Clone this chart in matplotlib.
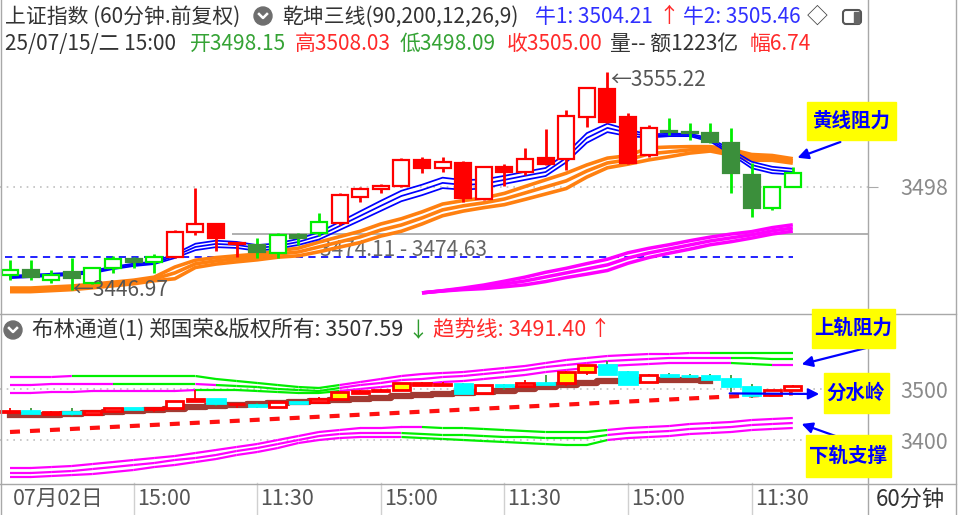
import numpy as np
import matplotlib
matplotlib.use('Agg')
import matplotlib.pyplot as plt
from matplotlib.patches import Rectangle, Circle, FancyBboxPatch
from matplotlib.collections import LineCollection
from matplotlib.transforms import blended_transform_factory

plt.rcParams['font.family'] = ['Noto Sans CJK SC', 'DejaVu Sans']

# ---- 60分钟K线 (07/02 - 07/15) ----
opens = [3454.3, 3456.8, 3451.8, 3455.8, 3450.3, 3457.8, 3462.3, 3460.8, 3463.2, 3475.7,
         3479.6, 3469.7, 3469.2, 3465.2, 3474.2, 3475.2, 3480.1, 3493.0, 3497.0, 3498.5,
         3511.4, 3507.4, 3509.9, 3492.0, 3507.9, 3505.4, 3512.4, 3511.9, 3532.8, 3546.7,
         3532.8, 3513.9, 3525.8, 3525.3, 3524.8, 3519.8, 3504.0, 3487.6, 3498.15]
highs = [3461.8, 3461.8, 3456.8, 3462.7, 3458.3, 3463.7, 3463.2, 3464.7, 3476.6, 3497.5,
         3479.6, 3470.7, 3472.7, 3475.2, 3475.2, 3485.1, 3495.0, 3498.0, 3499.5, 3512.4,
         3512.9, 3512.9, 3510.9, 3508.4, 3509.4, 3517.4, 3526.8, 3536.2, 3547.7, 3555.22,
         3534.7, 3528.8, 3532.3, 3529.8, 3529.8, 3527.3, 3509.9, 3498.5, 3508.03]
lows = [3451.8, 3451.8, 3450.3, 3446.97, 3449.8, 3455.3, 3457.8, 3455.3, 3462.7, 3474.2,
        3466.2, 3463.2, 3462.7, 3462.7, 3469.2, 3473.7, 3479.1, 3490.6, 3495.0, 3498.0,
        3505.0, 3505.4, 3490.6, 3491.5, 3498.5, 3504.0, 3508.9, 3506.4, 3527.8, 3529.8,
        3509.4, 3512.9, 3523.8, 3521.3, 3519.8, 3495.0, 3483.1, 3486.6, 3498.09]
closes = [3456.8, 3453.3, 3454.3, 3452.8, 3457.8, 3462.3, 3460.8, 3463.2, 3475.7, 3479.6,
          3472.7, 3470.2, 3465.7, 3474.2, 3472.7, 3480.6, 3494.0, 3497.0, 3498.5, 3511.4,
          3507.4, 3510.4, 3492.5, 3507.9, 3505.4, 3511.9, 3509.4, 3533.3, 3547.2, 3530.3,
          3509.9, 3527.3, 3525.3, 3524.8, 3520.3, 3505.0, 3487.6, 3498.0, 3505.00]
# 乾坤三线状态: r = 红, g = 绿
qk_state = "ggggggggrrrrggggrrrrrrrrrrrrrrrrggggggg"

# 乾坤三线 - 蓝线 (牛1/牛2)
blue_hi = [3453.9, 3454.4, 3454.9, 3455.4, 3456.4, 3458.4, 3459.9, 3460.9, 3464.7, 3469.8,
           3471.3, 3470.7, 3469.1, 3470.0, 3472.2, 3475.5, 3480.6, 3485.9, 3491.1, 3496.1,
           3499.1, 3502.6, 3501.4, 3501.7, 3503.5, 3505.5, 3507.4, 3514.6, 3524.7, 3529.4,
           3526.4, 3524.1, 3524.4, 3524.4, 3522.1, 3516.6, 3510.5, 3508.0, 3507.0]
blue_mid = [3453.3, 3453.8, 3454.3, 3454.8, 3455.8, 3457.8, 3459.3, 3460.3, 3463.7, 3468.2,
            3469.7, 3469.2, 3467.7, 3468.7, 3470.7, 3473.7, 3478.6, 3483.6, 3488.6, 3493.5,
            3496.5, 3500.0, 3499.0, 3499.5, 3501.5, 3503.5, 3505.4, 3512.4, 3522.3, 3527.3,
            3524.8, 3523.3, 3523.8, 3523.8, 3521.3, 3515.4, 3508.9, 3506.4, 3505.46]
blue_lo = [3452.7, 3453.2, 3453.7, 3454.2, 3455.2, 3457.2, 3458.7, 3459.7, 3462.7, 3466.6,
           3468.1, 3467.7, 3466.3, 3467.4, 3469.2, 3471.9, 3476.6, 3481.3, 3486.1, 3490.9,
           3493.9, 3497.4, 3496.6, 3497.3, 3499.5, 3501.5, 3503.4, 3510.2, 3519.9, 3525.2,
           3523.2, 3522.5, 3523.2, 3523.2, 3520.5, 3514.2, 3507.3, 3504.8, 3504.21]
# 黄线 (橙色带)
orange_hi = [3447.8, 3447.8, 3448.3, 3448.8, 3449.7, 3450.7, 3451.7, 3453.2, 3458.2, 3461.6,
             3462.9, 3463.8, 3464.6, 3466.3, 3467.6, 3470.6, 3473.3, 3476.0, 3479.6, 3482.2,
             3485.6, 3489.5, 3491.2, 3492.5, 3494.8, 3498.2, 3501.5, 3504.8, 3508.9, 3512.3,
             3513.5, 3517.4, 3517.8, 3518.0, 3518.0, 3516.6, 3514.1, 3513.6, 3512.0]
orange_mid = [3446.9, 3446.9, 3447.4, 3447.9, 3448.8, 3449.8, 3450.8, 3452.3, 3455.3, 3459.8,
              3461.3, 3462.3, 3463.2, 3464.7, 3465.7, 3468.2, 3470.7, 3473.2, 3476.6, 3479.1,
              3482.6, 3486.6, 3488.6, 3490.1, 3492.0, 3495.0, 3498.0, 3501.0, 3505.9, 3509.9,
              3511.4, 3514.4, 3515.4, 3516.4, 3516.9, 3515.2, 3512.7, 3512.4, 3510.9]
orange_lo = [3446.0, 3446.0, 3446.5, 3447.0, 3447.9, 3448.9, 3449.9, 3451.4, 3452.4, 3458.0,
             3459.7, 3460.8, 3461.8, 3463.1, 3463.8, 3465.8, 3468.1, 3470.4, 3473.6, 3476.0,
             3479.6, 3483.7, 3486.0, 3487.7, 3489.2, 3491.8, 3494.5, 3497.2, 3502.9, 3507.5,
             3509.3, 3511.4, 3513.0, 3514.8, 3515.8, 3513.8, 3511.3, 3511.2, 3509.8]
# 紫色带 (从第20根开始)
mag_start = 20
mag_hi = [3445.4, 3446.5, 3447.8, 3449.3, 3451.2, 3453.2, 3455.6, 3457.6, 3459.9, 3462.1,
          3465.3, 3467.5, 3469.3, 3471.3, 3473.1, 3474.6, 3475.8, 3477.8, 3479.2]
mag_mid = [3445.4, 3446.4, 3447.4, 3448.4, 3449.8, 3451.3, 3453.3, 3455.3, 3457.3, 3459.3,
           3462.7, 3465.2, 3467.2, 3469.2, 3471.2, 3472.7, 3474.2, 3476.2, 3477.6]
mag_lo = [3445.4, 3446.3, 3447.0, 3447.5, 3448.4, 3449.4, 3451.0, 3453.0, 3454.7, 3456.5,
          3460.1, 3462.9, 3465.1, 3467.1, 3469.3, 3470.8, 3472.6, 3474.6, 3476.0]
dash_level = 3463.2        # 蓝色虚线
gray_level = 3474.63       # 灰色水平线
gray_start = 10.8
mid_level = 3498

# ---- 布林通道 ----
boll_up1 = [3523.5, 3523.5, 3523.5, 3525.5, 3525.5, 3525.5, 3525.5, 3525.5, 3525.5, 3525.5,
            3519.6, 3515.7, 3511.8, 3507.8, 3503.9, 3502.0, 3507.8, 3513.7, 3519.6, 3525.5,
            3529.4, 3531.4, 3533.3, 3537.3, 3541.2, 3545.1, 3551.0, 3556.9, 3560.8, 3564.7,
            3566.7, 3568.6, 3568.6, 3570.6, 3570.6, 3570.6, 3570.6, 3570.6, 3570.6]
boll_up2 = [3507.8, 3507.8, 3509.8, 3509.8, 3509.8, 3509.8, 3509.8, 3509.8, 3509.8, 3509.8,
            3507.8, 3505.9, 3503.9, 3500.0, 3498.0, 3496.1, 3502.0, 3507.8, 3511.8, 3517.6,
            3519.6, 3523.5, 3525.5, 3529.4, 3533.3, 3537.3, 3543.1, 3547.1, 3551.0, 3554.9,
            3556.9, 3558.8, 3560.8, 3560.8, 3560.8, 3560.8, 3560.8, 3558.8, 3558.8]
boll_up3 = [3492.2, 3492.2, 3494.1, 3494.1, 3496.1, 3496.1, 3496.1, 3496.1, 3496.1, 3498.0,
            3498.0, 3498.0, 3496.1, 3494.1, 3492.2, 3492.2, 3496.1, 3500.0, 3503.9, 3507.8,
            3509.8, 3513.7, 3515.7, 3519.6, 3523.5, 3527.5, 3533.3, 3537.3, 3541.2, 3545.1,
            3547.1, 3549.0, 3551.0, 3551.0, 3551.0, 3551.0, 3549.0, 3547.1, 3547.1]
boll_lo1 = [3345.1, 3345.1, 3347.0, 3349.0, 3352.9, 3356.8, 3360.8, 3364.7, 3368.6, 3374.5,
            3380.4, 3386.3, 3392.1, 3400.0, 3407.8, 3415.7, 3419.6, 3423.5, 3423.5, 3425.5,
            3425.5, 3423.5, 3423.5, 3421.6, 3419.6, 3417.6, 3415.7, 3415.7, 3415.7, 3419.6,
            3423.5, 3425.5, 3427.4, 3431.4, 3433.3, 3435.3, 3439.2, 3441.2, 3443.1]
boll_lo2 = [3335.3, 3335.3, 3337.2, 3339.2, 3343.1, 3347.0, 3351.0, 3354.9, 3360.8, 3364.7,
            3370.6, 3378.4, 3384.3, 3392.1, 3400.0, 3407.8, 3411.8, 3413.7, 3413.7, 3413.7,
            3411.8, 3409.8, 3409.8, 3407.8, 3405.9, 3405.9, 3403.9, 3403.9, 3403.9, 3409.8,
            3413.7, 3415.7, 3417.6, 3421.6, 3423.5, 3425.5, 3429.4, 3431.4, 3433.3]
boll_lo3 = [3327.4, 3327.4, 3329.4, 3331.3, 3333.3, 3337.2, 3341.2, 3347.0, 3351.0, 3356.8,
            3362.7, 3370.6, 3376.5, 3384.3, 3394.1, 3400.0, 3403.9, 3405.9, 3405.9, 3405.9,
            3403.9, 3402.0, 3400.0, 3398.0, 3396.1, 3394.1, 3392.1, 3390.2, 3390.2, 3400.0,
            3403.9, 3405.9, 3407.8, 3411.8, 3413.7, 3415.7, 3419.6, 3421.6, 3423.5]
# m = 紫, g = 绿
state_up1 = "mmmgggggggggggggmmmmmmmmmmmmmmmmmmggggg"
state_up2 = "mmmmmggggmggggggmmmmmmmmmmmmmmmmmmmgggm"
state_up3 = "mmmmmmmmmgggggggmmmmmmmmmmmmmmmmmmmggmm"
state_lo1 = "mmmmmmmmmmmmmmmmmmmmgggggggggmmmmmmmmmm"
state_lo2 = "mmmmmmmmmmmmmmmmmmmggggggggggmmmmmmmmmm"
brown = [3449.0, 3449.0, 3449.0, 3451.0, 3452.9, 3454.9, 3456.9, 3458.8, 3460.8, 3464.7,
         3466.7, 3468.6, 3470.6, 3472.5, 3474.5, 3476.5, 3478.4, 3480.4, 3482.4, 3486.3,
         3488.2, 3490.2, 3492.2, 3494.1, 3496.1, 3500.0, 3503.9, 3507.8, 3511.8, 3515.7,
         3515.7, 3517.6, 3517.6, 3517.6, 3515.7]
trend_bars = [0, 38]
trend_vals = [3415.7, 3491.4]
yellow_bars = [16, 17, 18, 19, 20, 21, 27, 28]

tick_bars = [0, 6, 12, 18, 24, 30, 36]
tick_labels = ['07月02日', '15:00', '11:30', '15:00', '11:30', '15:00', '11:30']

n = len(closes)
x = np.arange(n)

W, H = 960, 515
fig = plt.figure(figsize=(9.6, 5.15), dpi=100)


def px_axes(x0, y0, x1, y1):
    return fig.add_axes([x0 / W, 1 - y1 / H, (x1 - x0) / W, (y1 - y0) / H])


ax = px_axes(0, 0, 868, 313)
axb = px_axes(0, 315, 868, 483)
for a in (ax, axb):
    a.set_xlim(-0.485, 41.65)
    for s in a.spines.values():
        s.set_visible(False)
    a.set_xticks([])
    a.yaxis.tick_right()
ax.set_ylim(3435.4, 3590.8)
axb.set_ylim(3315.7, 3645.1)

GRAY_TXT = '#8a8a8a'
ax.set_yticks([mid_level])
ax.tick_params(axis='y', length=7, color='#aaaaaa', labelcolor=GRAY_TXT, labelsize=15.5, pad=16)
axb.set_yticks([3400, 3500])
axb.tick_params(axis='y', length=0, labelcolor=GRAY_TXT, labelsize=15.5, pad=23)

# ---------------- 主图 ----------------
ax.axhline(mid_level, color='#c0c0c0', lw=1.2, ls=(0, (1, 3)), zorder=0)
ax.hlines(dash_level, -0.25, n - 1, color='#1010ff', lw=1.3, ls=(0, (4, 3)), zorder=1)
ax.hlines(gray_level, gray_start, 41.65, color='#9a9a9a', lw=1.1, zorder=1)
ax.text(23.15, 3466.7, '3474.11 - 3474.63', color='#666666', fontsize=15,
        ha='right', va='center', zorder=1)

mx = x[mag_start:]
for v in (mag_lo, mag_mid, mag_hi):
    ax.plot(mx, v, color='#ff00ff', lw=2.5, solid_capstyle='butt', zorder=2)
for v in (orange_lo, orange_mid, orange_hi):
    ax.plot(x, v, color='#ff8010', lw=2.6, solid_capstyle='butt', zorder=3)
for v in (blue_lo, blue_mid, blue_hi):
    ax.plot(x, v, color='#0000ff', lw=1.25, zorder=4)

RED, GREEN, DKGREEN = '#ff0000', '#00ee00', '#3b8f3b'
w = 0.78
for i in range(n):
    o, h, l, c = opens[i], highs[i], lows[i], closes[i]
    up = c >= o
    if qk_state[i] == 'r':
        wick = RED
        fc, ec = ('white', RED) if up else (RED, RED)
    else:
        wick = GREEN
        fc, ec = ('white', GREEN) if up else (DKGREEN, DKGREEN)
    ax.vlines(i, l, h, color=wick, lw=2.0, zorder=5)
    ax.add_patch(Rectangle((i - w / 2, min(o, c)), w, max(abs(c - o), 0.3),
                           facecolor=fc, edgecolor=ec, lw=1.6, zorder=6))

ax.text(3, lows[3], '←3446.97', color='#555555', fontsize=15, va='center', ha='left', zorder=7)
ax.annotate('←3555.22', xy=(29, highs[29]), xytext=(3, -8), textcoords='offset pixels',
            color='#555555', fontsize=15, va='center', ha='left', zorder=7)

# ---------------- 布林通道 ----------------
axb.axhline(3500, color='#c0c0c0', lw=1.2, ls=(0, (1, 3)), zorder=0)
axb.axhline(3400, color='#c0c0c0', lw=1.2, ls=(0, (1, 3)), zorder=0)

cmap = {'m': '#ff00ff', 'g': '#00ee00'}


def state_line(a, vals, states):
    segs = [[(i, vals[i]), (i + 1, vals[i + 1])] for i in range(len(vals) - 1)]
    cols = [cmap[states[i]] for i in range(len(vals) - 1)]
    a.add_collection(LineCollection(segs, colors=cols, linewidths=1.6, zorder=2))


state_line(axb, boll_up1, state_up1)
state_line(axb, boll_up2, state_up2)
state_line(axb, boll_up3, state_up3)
state_line(axb, boll_lo1, state_lo1)
state_line(axb, boll_lo2, state_lo2)
state_line(axb, boll_lo3, state_lo2)

axb.plot(trend_bars, trend_vals, color='#ff1010', lw=3, ls=(0, (2.4, 2.4)), zorder=3)
axb.plot(x[:len(brown)], brown, color='#a23a32', lw=4.5, drawstyle='steps-mid', zorder=4)

wb = 0.84
for i in range(n):
    o, h, l, c = opens[i], highs[i], lows[i], closes[i]
    if i in yellow_bars:
        fc, ec, wick = '#ffff00', RED, RED
    elif c < o:
        fc, ec, wick = '#00ffff', '#00ffff', '#3a9a3a'
    else:
        fc, ec, wick = 'white', RED, RED
    axb.vlines(i, l, h, color=wick, lw=1.3, zorder=5)
    axb.add_patch(Rectangle((i - wb / 2, min(o, c)), wb, max(abs(c - o), 1.5),
                            facecolor=fc, edgecolor=ec, lw=2.0, zorder=6))

# x 轴时间
tr = blended_transform_factory(axb.transData, axb.transAxes)
for b, lab in zip(tick_bars, tick_labels):
    if b > 0:
        axb.plot([b, b], [0, -32 / 168], color='#d0d0d0', lw=1, transform=tr, clip_on=False)
    axb.text(b + 0.15, -16 / 168, lab, transform=tr, color='#555555', fontsize=15.5,
             ha='left', va='center', clip_on=False)

# ---------------- 叠加层 ----------------
ov = px_axes(0, 0, W, H)
ov.set_xlim(0, W)
ov.set_ylim(H, 0)
ov.axis('off')

for xs, ys in [([868, 868], [0, H]), ([956, 956], [0, H]), ([1, 1], [0, H]),
               ([0, 956], [314, 314]), ([0, 956], [484, 484])]:
    ov.plot(xs, ys, color='#a8a8a8', lw=1)


def chevron(cx, cy):
    ov.add_patch(Circle((cx, cy), 9, color='#6e6e6e'))
    ov.plot([cx - 4, cx, cx + 4], [cy - 2, cy + 2, cy - 2], color='white', lw=1.8)


DARK, BLUE, RED_T, GREEN_T = '#333333', '#3030ff', '#ff2a2a', '#35a335'
fs = 15
ov.text(5, 17, '上证指数 (60分钟.前复权)', color=DARK, fontsize=fs, va='center')
chevron(263, 16)
ov.text(282, 17, '乾坤三线(90,200,12,26,9)', color=DARK, fontsize=fs, va='center')
ov.text(535, 17, f'牛1: {blue_lo[-1]:.2f}', color=BLUE, fontsize=fs, va='center')
ov.text(658, 16, '↑', color=RED_T, fontsize=fs, va='center')
ov.text(683, 17, f'牛2: {blue_mid[-1]:.2f}', color=BLUE, fontsize=fs, va='center')
ov.text(807, 17, '◇', color='#444444', fontsize=fs, va='center')
ov.add_patch(FancyBboxPatch((843, 10), 18, 14, boxstyle='round,pad=0,rounding_size=3',
                            fc='white', ec='#555555', lw=1.5))
ov.add_patch(Rectangle((854, 11.5), 5, 11, color='#666666'))

ov.text(5, 44, '25/07/15/二 15:00', color=DARK, fontsize=fs, va='center')
ov.text(190, 44, f'开{opens[-1]:.2f}', color=GREEN_T, fontsize=fs, va='center')
ov.text(295, 44, f'高{highs[-1]:.2f}', color=RED_T, fontsize=fs, va='center')
ov.text(400, 44, f'低{lows[-1]:.2f}', color=GREEN_T, fontsize=fs, va='center')
ov.text(507, 44, f'收{closes[-1]:.2f}', color=RED_T, fontsize=fs, va='center')
ov.text(610, 44, '量-- 额1223亿', color=DARK, fontsize=fs, va='center')
t = ov.text(750, 44, '幅6.74', color=RED_T, fontsize=fs, va='center')
t.set_clip_path(Rectangle((740, 30), 68, 30, transform=ov.transData))

chevron(13, 330)
ov.text(32, 330, '布林通道(1) 郑国荣&版权所有: 3507.59', color=DARK, fontsize=15.5, va='center')
ov.text(407, 331, '↓', color='#2e9b2e', fontsize=fs, va='center')
ov.text(433, 330, f'趋势线: {trend_vals[-1]:.2f}', color=RED_T, fontsize=15.5, va='center')
ov.text(589, 329, '↑', color=RED_T, fontsize=fs, va='center')

ov.text(876, 499, '60分钟', color=DARK, fontsize=16, va='center')

# 标注
for (cx, cy, bw, bh, lab) in [(851, 121, 89, 38, '黄线阻力'), (853, 328, 83, 39, '上轨阻力'),
                              (856, 393, 65, 40, '分水岭'), (848, 456, 85, 42, '下轨支撑')]:
    ov.add_patch(Rectangle((cx - bw / 2, cy - bh / 2), bw, bh, color='#ffff00', zorder=5))
    ov.text(cx, cy, lab, color='#0000ff', fontsize=14, fontweight='bold',
            ha='center', va='center', zorder=6)

arrow = dict(arrowstyle='-|>', color='#0000ff', lw=1.6, mutation_scale=16)
ax.annotate('', xy=(38.1, orange_hi[-1]), xytext=(843, 141), textcoords=ov.transData,
            arrowprops=arrow, annotation_clip=False, zorder=8)
axb.annotate('', xy=(38.3, boll_up3[-1]), xytext=(870, 347), textcoords=ov.transData,
             arrowprops=arrow, annotation_clip=False, zorder=8)
axb.annotate('', xy=(822, 394), xycoords=ov.transData, xytext=(34.8, trend_vals[-1]),
             textcoords='data', arrowprops=arrow, annotation_clip=False, zorder=8)
axb.annotate('', xy=(38.3, boll_lo2[-1]), xytext=(855, 443), textcoords=ov.transData,
             arrowprops=arrow, annotation_clip=False, zorder=8)

fig.savefig('out.png', dpi=100)
